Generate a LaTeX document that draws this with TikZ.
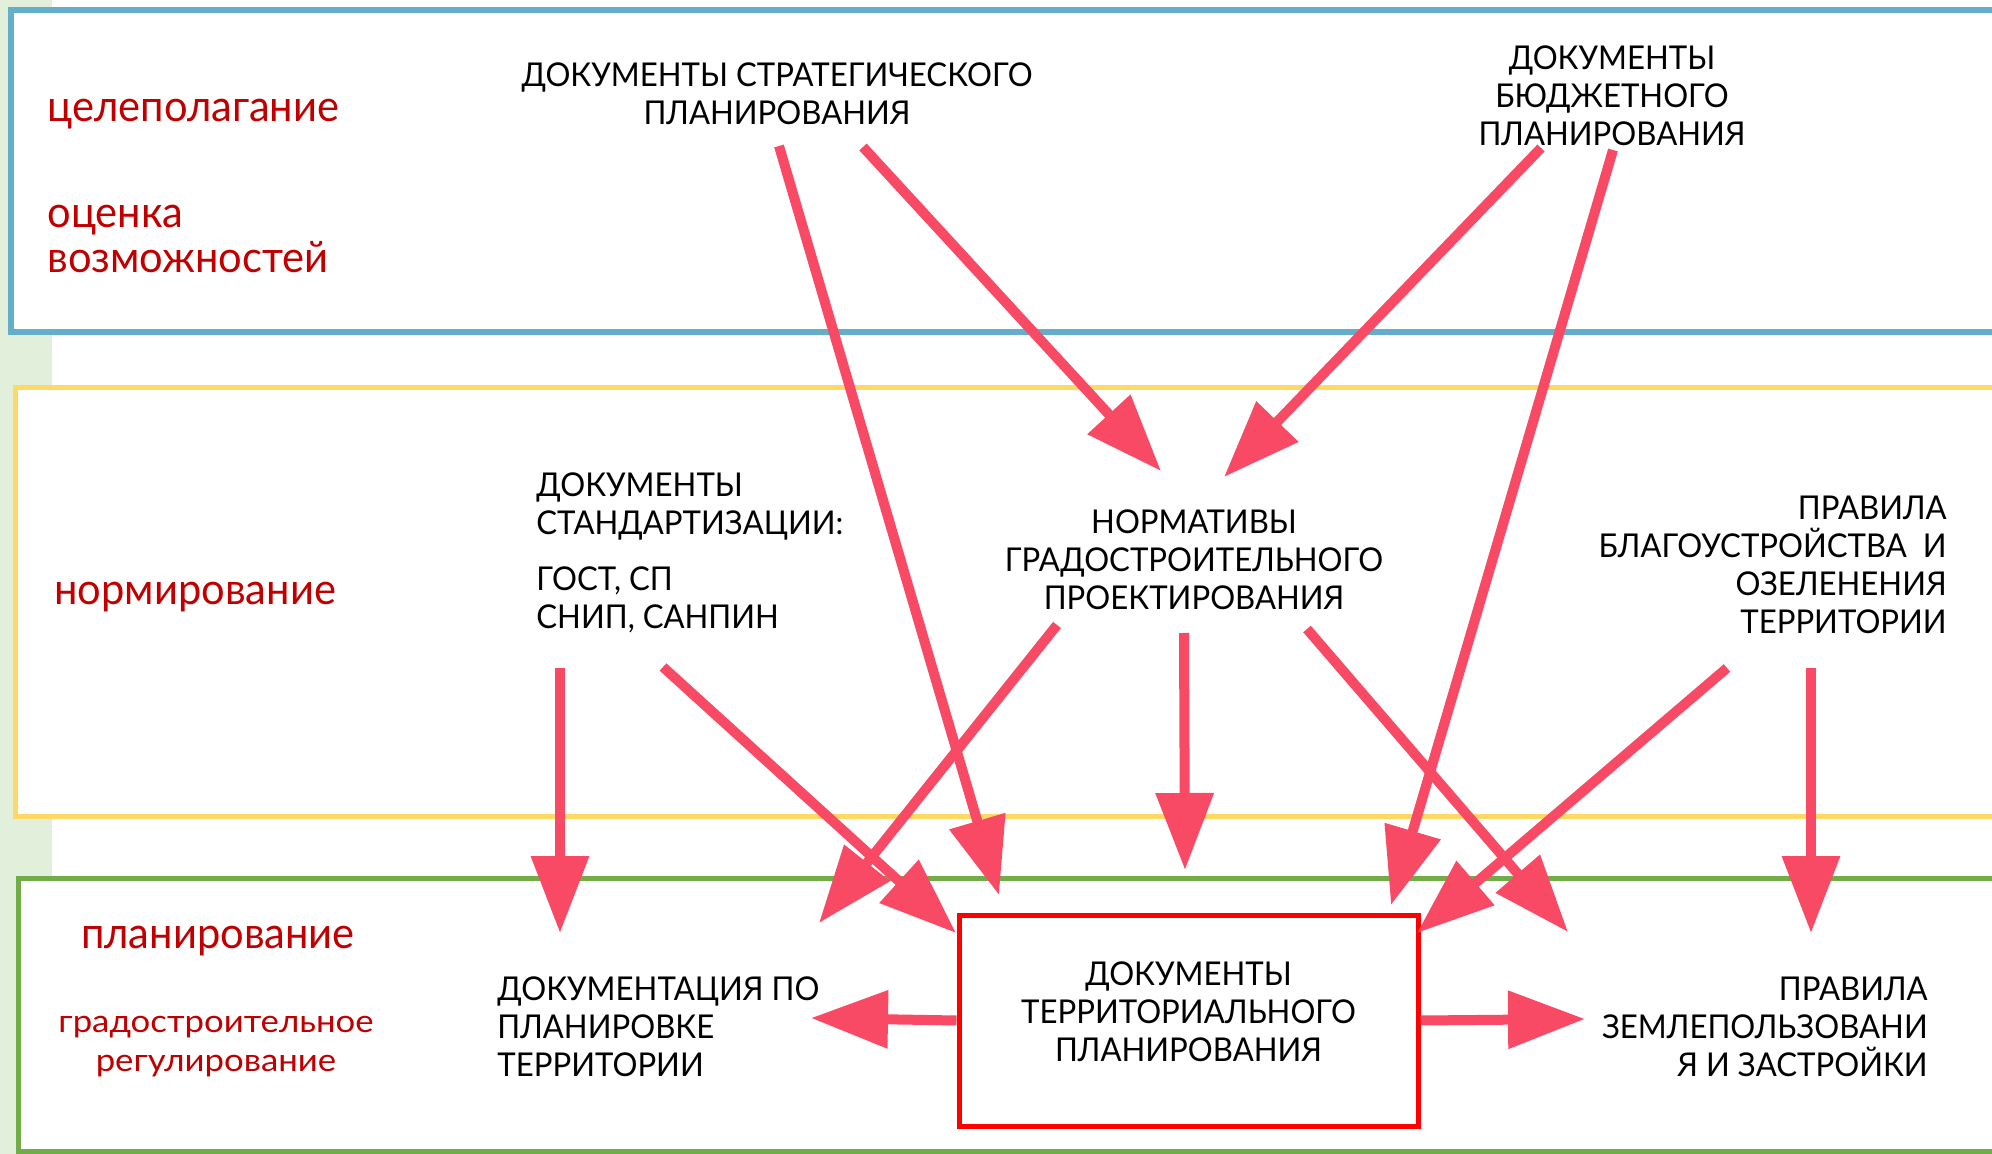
\documentclass[tikz,border=0pt]{standalone}
\usepackage{fontspec}
\setmainfont{Lato}
\newfontfamily\capsfamily[FakeStretch=0.95]{Lato}
\newfontfamily\labelfamily[FakeStretch=0.96]{Lato}
\newfontfamily\smalllabelfamily[FakeStretch=1.1]{Lato}
\usepackage{xcolor}
\usepackage{tikz}
\usetikzlibrary{arrows.meta, positioning, calc}
\definecolor{bandblue}{RGB}{100,174,204}
\definecolor{bandyellow}{RGB}{255,217,102}
\definecolor{bandgreen}{RGB}{112,173,71}
\definecolor{stripgreen}{RGB}{226,239,218}
\definecolor{arrowpink}{RGB}{248,74,101}
\definecolor{labelred}{RGB}{192,0,0}
\definecolor{boxred}{RGB}{255,0,0}
\newcommand{\capfont}{\capsfamily\fontsize{16.4}{19}\selectfont}
\newcommand{\bigredfont}{\labelfamily\fontsize{21.7}{22.5}\selectfont}
\newcommand{\smallredfont}{\smalllabelfamily\fontsize{15.8}{19.5}\selectfont}
\tikzset{
    band/.style = {draw, line width=2.5pt, fill=white},
    textnode/.style = {draw=none, fill=none, rectangle, inner sep=0em, font=\capfont},
    leftnode/.style = {textnode, align=left, anchor=west},
    rightnode/.style = {textnode, align=right, anchor=east},
    labelnode/.style = {draw=none, fill=none, inner sep=0em, font=\bigredfont, text=labelred},
    smalllabelnode/.style = {labelnode, font=\smallredfont},
    boxnode/.style = {textnode, draw=boxred, line width=2.5pt, fill=white, 
      minimum width=229.5pt, minimum height=105.5pt, text depth=9pt},
    connect/.style = {arrowpink, line width=5pt, -{Triangle[length=38.5pt, width=28pt]}}
}

\begin{document}
\begin{tikzpicture}[x=0.5pt, y=-0.5pt]
\clip (0,0) rectangle (1992,1154);
\fill [white] (0,0) rectangle (1992,1154);
\fill [stripgreen] (0,0) rectangle (52,1154);
% bands
\draw [band, draw=bandblue, line width=3pt] (10.5,10.5) rectangle (2020,332);
\draw [band, draw=bandyellow] (15,388) rectangle (2020,816);
\draw [band, draw=bandgreen] (18,878) rectangle (2020,1151);

% stage labels
\node [labelnode, anchor=base west, name=Goal] at (47,122) {целеполагание};
\node [labelnode, anchor=west, align=left, name=Assess] at (47,239) {оценка\\возможностей};
\node [labelnode, anchor=base west, name=Normir] at (54,605) {нормирование};
\node [labelnode, anchor=base, name=Plan] at (218,948) {планирование};
\node [smalllabelnode, align=center, name=Regul] at (216,1047) {градостроительное\\регулирование};

% documents
\node [textnode, align=center, name=Strat] at (777,94) {ДОКУМЕНТЫ СТРАТЕГИЧЕСКОГО\\ПЛАНИРОВАНИЯ};
\node [textnode, align=center, name=Budget] at (1612,96) {ДОКУМЕНТЫ\\БЮДЖЕТНОГО\\ПЛАНИРОВАНИЯ};
\node [leftnode, name=Stand] at (536,506) {ДОКУМЕНТЫ\\СТАНДАРТИЗАЦИИ:};
\node [leftnode, name=Gost, below=13pt of Stand.south west, anchor=north west] {ГОСТ, СП\\СНИП, САНПИН};
\node [textnode, align=center, name=Norm] at (1194,560) {НОРМАТИВЫ\\ГРАДОСТРОИТЕЛЬНОГО\\ПРОЕКТИРОВАНИЯ};
\node [rightnode, name=Blag] at (1947,565) {ПРАВИЛА\\БЛАГОУСТРОЙСТВА\ \ И\\ОЗЕЛЕНЕНИЯ\\ТЕРРИТОРИИ};
\node [leftnode, name=Dpt] at (497,1027) {ДОКУМЕНТАЦИЯ ПО\\ПЛАНИРОВКЕ\\ТЕРРИТОРИИ};
\node [boxnode, align=center, name=Terr] at (1188.5,1020.5) {ДОКУМЕНТЫ\\ТЕРРИТОРИАЛЬНОГО\\ПЛАНИРОВАНИЯ};
\node [rightnode, name=Pzz] at (1928,1027) {ПРАВИЛА\\ЗЕМЛЕПОЛЬЗОВАНИ\\Я И ЗАСТРОЙКИ};

% arrow ends
\coordinate (StratA) at (779,146);
\coordinate (StratB) at (863,147);
\coordinate (BudgetA) at (1541,148);
\coordinate (BudgetB) at (1613,150);
\coordinate (GostA) at (560,668);
\coordinate (GostB) at (663,667);
\coordinate (NormA) at (1161,471);
\coordinate (NormB) at (1224,477);
\coordinate (NormC) at (1057,625);
\coordinate (NormD) at (1184,633);
\coordinate (NormE) at (1307,629);
\coordinate (BlagA) at (1727,668);
\coordinate (BlagB) at (1811,668);
\coordinate (DptA) at (560,933);
\coordinate (DptB) at (819,923);
\coordinate (DptC) at (811,1018);
\coordinate (TerrA) at (999,895);
\coordinate (TerrB) at (1391,905);
\coordinate (TerrC) at (956,933);
\coordinate (TerrD) at (1185,870);
\coordinate (TerrE) at (1417,933);
\coordinate (PzzA) at (1568,932);
\coordinate (PzzB) at (1811,933);
\coordinate (PzzC) at (1585,1019);

% arrows
\draw (StratA) edge[connect] (TerrA);
\draw (StratB) edge[connect] (NormA);
\draw (BudgetA) edge[connect] (NormB);
\draw (BudgetB) edge[connect] (TerrB);
\draw (GostA) edge[connect] (DptA);
\draw (GostB) edge[connect] (TerrC);
\draw (NormC) edge[connect] (DptB);
\draw (NormD) edge[connect] (TerrD);
\draw (NormE) edge[connect] (PzzA);
\draw (BlagA) edge[connect] (TerrE);
\draw (BlagB) edge[connect] (PzzB);
\draw (Terr.west) edge[connect] (DptC);
\draw (Terr.east) edge[connect] (PzzC);
\end{tikzpicture}
\end{document}
